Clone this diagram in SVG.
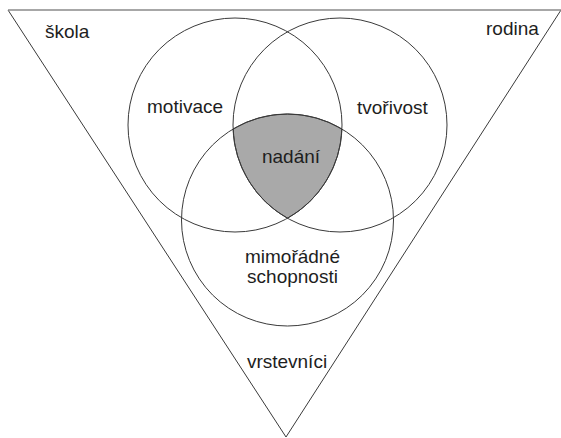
<svg xmlns="http://www.w3.org/2000/svg" width="561" height="438" viewBox="0 0 561 438">
<style>
.ln{fill:none;stroke:#3a3a3a;stroke-width:1}
.t{font-family:"Liberation Sans",Arial,sans-serif;font-size:19px;fill:#1e1e1e}
.c{text-anchor:middle}
</style>
<rect width="561" height="438" fill="#ffffff"/>
<g id="triangle">
<path class="ln" d="M8,10 L286,437 L561,10"/>
<line x1="8" y1="10" x2="561" y2="10" stroke="#8a8a8a" stroke-width="1.6"/>
</g>
<g id="nadani">
<path d="M233.08,129.04 A106,106 0 0 1 341.92,129.04 A107,107 0 0 1 287.5,218.24 A107,107 0 0 1 233.08,129.04 Z" fill="#a9a9a9" stroke="#3a3a3a" stroke-width="1"/>
<text class="t c" x="291" y="163">nadání</text>
</g>
<g id="motivace">
<circle class="ln" cx="235" cy="125" r="107"/>
<text class="t" x="147" y="113">motivace</text>
</g>
<g id="tvorivost">
<circle class="ln" cx="340" cy="125" r="107"/>
<text class="t" x="357" y="114">tvořivost</text>
</g>
<g id="schopnosti">
<circle class="ln" cx="287.5" cy="220" r="106"/>
<text class="t c" x="292.5" y="263">mimořádné</text>
<text class="t c" x="292.5" y="283">schopnosti</text>
</g>
<g id="labels">
<text class="t" x="45" y="38">škola</text>
<text class="t" x="486" y="35">rodina</text>
<text class="t c" x="287" y="368">vrstevníci</text>
</g>
</svg>
